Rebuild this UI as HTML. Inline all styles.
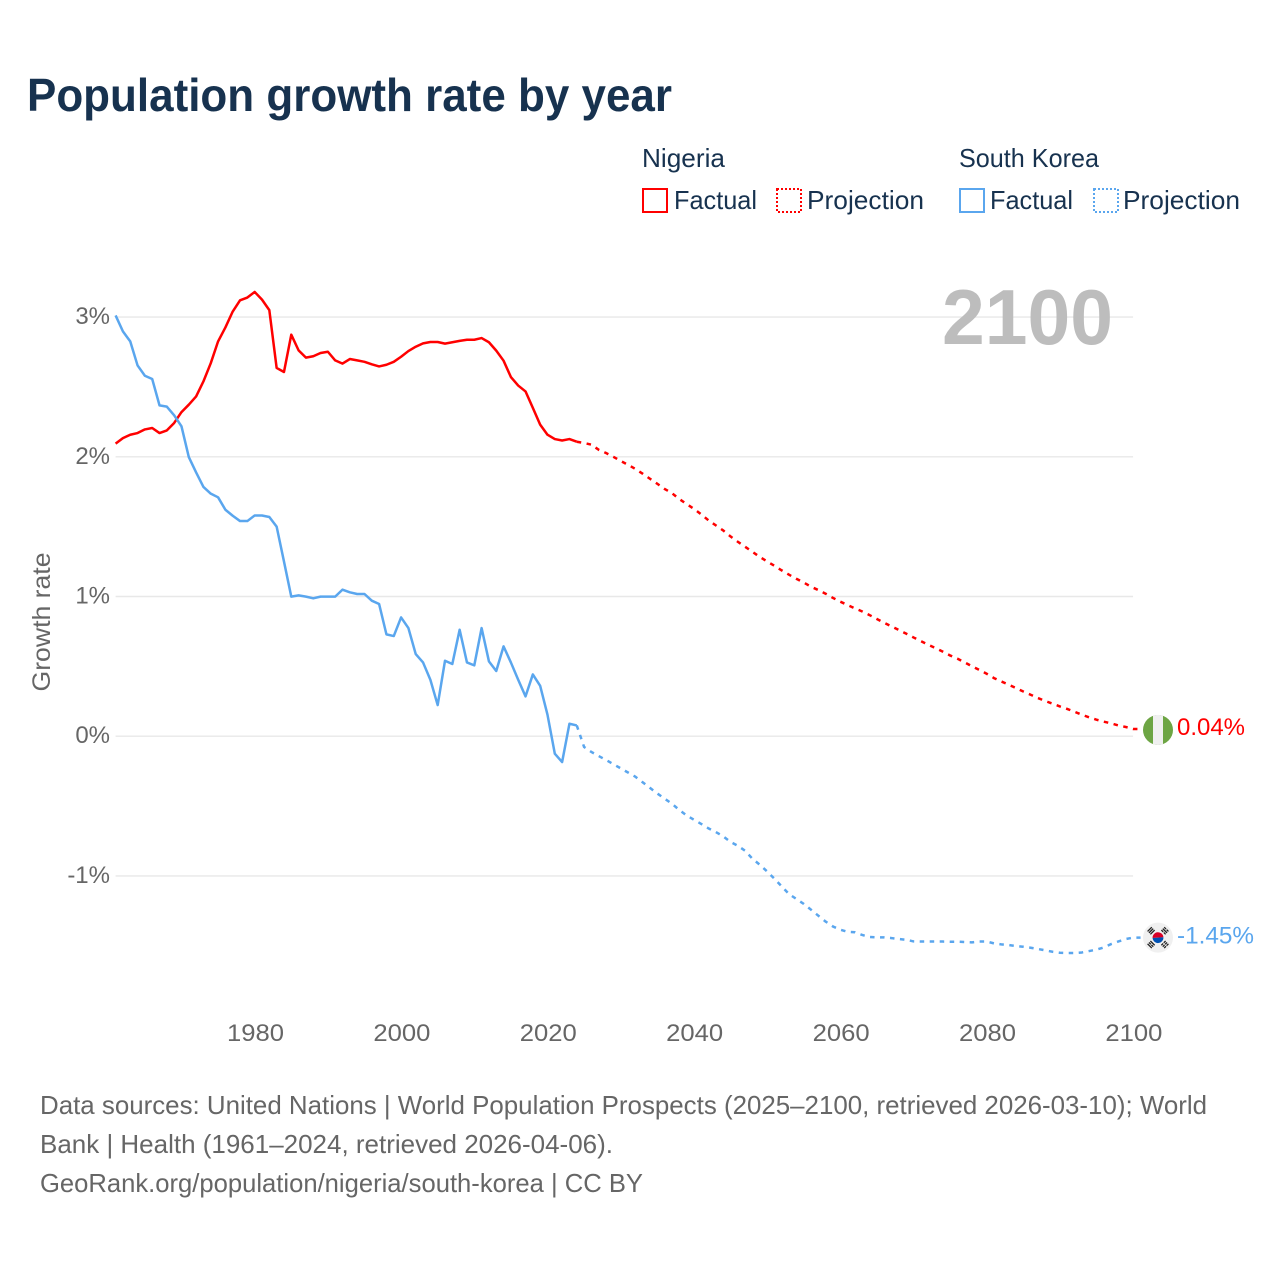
<!DOCTYPE html>
<html lang="en">
<head>
<meta charset="utf-8">
<title>Population growth rate by year</title>
<style>
html,body{margin:0;padding:0;background:#fff;}
svg{display:block;font-family:"Liberation Sans",Arial,sans-serif;}
</style>
</head>
<body>
<svg id="chart" xmlns="http://www.w3.org/2000/svg" width="1280" height="1280" viewBox="0 0 1280 1280">
  <rect x="0" y="0" width="1280" height="1280" fill="#ffffff"/>
  <text x="27" y="111" font-size="46" font-weight="700" fill="#17324f" textLength="645" lengthAdjust="spacingAndGlyphs">Population growth rate by year</text>

  <g font-size="26" fill="#17324f">
    <text x="642" y="167" textLength="83" lengthAdjust="spacingAndGlyphs">Nigeria</text>
    <text x="959" y="167" textLength="140" lengthAdjust="spacingAndGlyphs">South Korea</text>
    <g>
      <rect x="643" y="189" width="24" height="23" fill="none" stroke="#ff0000" stroke-width="2"/>
      <text x="674" y="209" textLength="83" lengthAdjust="spacingAndGlyphs">Factual</text>
    </g>
    <g>
      <rect x="777" y="189" width="24" height="23" fill="none" stroke="#ff0000" stroke-width="2" stroke-dasharray="2 2"/>
      <text x="807" y="209" textLength="117" lengthAdjust="spacingAndGlyphs">Projection</text>
    </g>
    <g>
      <rect x="960" y="189" width="24" height="23" fill="none" stroke="#5aa6ee" stroke-width="2"/>
      <text x="990" y="209" textLength="83" lengthAdjust="spacingAndGlyphs">Factual</text>
    </g>
    <g>
      <rect x="1094" y="189" width="24" height="23" fill="none" stroke="#5aa6ee" stroke-width="2" stroke-dasharray="2 2"/>
      <text x="1123" y="209" textLength="117" lengthAdjust="spacingAndGlyphs">Projection</text>
    </g>
  </g>

  <g id="grid"></g>
  <text x="942" y="344" font-size="78" font-weight="700" fill="#bdbdbd" textLength="171" lengthAdjust="spacingAndGlyphs">2100</text>
  <g id="yticks" font-size="24" fill="#666666"></g>
  <g id="xticks" font-size="24" fill="#666666"></g>
  <text transform="translate(50,622) rotate(-90)" text-anchor="middle" font-size="25" fill="#666666" textLength="139" lengthAdjust="spacingAndGlyphs">Growth rate</text>
  <g id="series"></g>

  <g id="flag-nigeria">
    <circle cx="0" cy="0" r="15" fill="#6da544"/>
    <path d="M-5 -14.2A15 15 0 0 1 5 -14.2V14.2A15 15 0 0 1 -5 14.2Z" fill="#f0f0f0"/>
  </g>
  <g id="flag-korea">
    <circle cx="0" cy="0" r="15" fill="#f0f0f0"/>
    <path d="M-5.4 0.4A5.4 5.4 0 0 1 5.4 -0.4Z" fill="#d80027"/>
    <path d="M-5.4 0.4A5.4 5.4 0 0 0 5.4 -0.4Z" fill="#0052b4"/>
    <g fill="#222222">
      <g transform="rotate(-45) translate(0,-9.8)"><rect x="-3" y="-2.6" width="6" height="1.3"/><rect x="-3" y="-0.6" width="6" height="1.3"/><rect x="-3" y="1.4" width="6" height="1.3"/></g>
      <g transform="rotate(45) translate(0,-9.8)"><rect x="-3" y="-2.6" width="2.6" height="1.3"/><rect x="0.4" y="-2.6" width="2.6" height="1.3"/><rect x="-3" y="-0.6" width="6" height="1.3"/><rect x="-3" y="1.4" width="2.6" height="1.3"/><rect x="0.4" y="1.4" width="2.6" height="1.3"/></g>
      <g transform="rotate(135) translate(0,-9.8)"><rect x="-3" y="-2.6" width="2.6" height="1.3"/><rect x="0.4" y="-2.6" width="2.6" height="1.3"/><rect x="-3" y="-0.6" width="2.6" height="1.3"/><rect x="0.4" y="-0.6" width="2.6" height="1.3"/><rect x="-3" y="1.4" width="2.6" height="1.3"/><rect x="0.4" y="1.4" width="2.6" height="1.3"/></g>
      <g transform="rotate(225) translate(0,-9.8)"><rect x="-3" y="-2.6" width="6" height="1.3"/><rect x="-3" y="-0.6" width="2.6" height="1.3"/><rect x="0.4" y="-0.6" width="2.6" height="1.3"/><rect x="-3" y="1.4" width="6" height="1.3"/></g>
    </g>
  </g>
  <text id="label-nigeria" x="1177" font-size="24" fill="#ff0000" textLength="68" lengthAdjust="spacingAndGlyphs"></text>
  <text id="label-korea" x="1177" font-size="24" fill="#5aa6ee" textLength="77" lengthAdjust="spacingAndGlyphs"></text>

  <g font-size="26" fill="#666666">
    <text x="40" y="1114" textLength="1167" lengthAdjust="spacingAndGlyphs">Data sources: United Nations | World Population Prospects (2025–2100, retrieved 2026-03-10); World</text>
    <text x="40" y="1153" textLength="573" lengthAdjust="spacingAndGlyphs">Bank | Health (1961–2024, retrieved 2026-04-06).</text>
    <text x="40" y="1192" textLength="603" lengthAdjust="spacingAndGlyphs">GeoRank.org/population/nigeria/south-korea | CC BY</text>
  </g>
</svg>
<script>
const firstYear = 1961;
const yTickValues = [3, 2, 1, 0, -1];
const yTickLabels = ["3%", "2%", "1%", "0%", "-1%"];
const xTickYears = [1980, 2000, 2020, 2040, 2060, 2080, 2100];
const nigeriaEndLabel = "0.04%";
const koreaEndLabel = "-1.45%";
const nigeriaFactual = [2.094,2.134,2.158,2.17,2.196,2.206,2.17,2.189,2.242,2.32,2.373,2.432,2.54,2.67,2.826,2.926,3.04,3.12,3.14,3.18,3.125,3.05,2.636,2.607,2.874,2.762,2.71,2.72,2.743,2.752,2.69,2.667,2.70,2.69,2.68,2.662,2.647,2.659,2.68,2.716,2.757,2.788,2.812,2.822,2.822,2.81,2.82,2.83,2.838,2.838,2.85,2.82,2.76,2.688,2.571,2.51,2.468,2.35,2.23,2.158,2.127,2.117,2.127,2.108];
const nigeriaProjection = [2.099,2.087,2.05,2.027,2.0,1.97,1.943,1.913,1.879,1.843,1.807,1.77,1.74,1.698,1.662,1.628,1.588,1.545,1.509,1.473,1.43,1.392,1.356,1.32,1.283,1.251,1.22,1.187,1.156,1.127,1.1,1.07,1.046,1.02,0.99,0.963,0.939,0.915,0.893,0.867,0.839,0.812,0.786,0.76,0.734,0.707,0.681,0.655,0.631,0.605,0.578,0.555,0.528,0.5,0.474,0.447,0.416,0.392,0.369,0.345,0.32,0.297,0.273,0.252,0.233,0.213,0.195,0.175,0.154,0.135,0.118,0.104,0.092,0.077,0.066,0.052];
const koreaFactual = [3.012,2.898,2.826,2.654,2.58,2.557,2.368,2.359,2.297,2.218,1.998,1.888,1.784,1.736,1.71,1.621,1.578,1.54,1.54,1.58,1.58,1.569,1.50,1.251,0.999,1.008,0.999,0.987,0.999,0.999,0.999,1.049,1.03,1.018,1.018,0.97,0.946,0.729,0.717,0.85,0.774,0.588,0.528,0.404,0.223,0.54,0.517,0.762,0.528,0.507,0.774,0.536,0.467,0.643,0.528,0.404,0.285,0.442,0.361,0.154,-0.125,-0.185,0.089,0.077];
const koreaProjection = [-0.077,-0.113,-0.142,-0.17,-0.2,-0.23,-0.26,-0.29,-0.33,-0.37,-0.41,-0.447,-0.483,-0.528,-0.567,-0.598,-0.628,-0.66,-0.686,-0.717,-0.757,-0.784,-0.82,-0.877,-0.92,-0.968,-1.02,-1.075,-1.13,-1.165,-1.2,-1.242,-1.285,-1.327,-1.362,-1.385,-1.4,-1.403,-1.423,-1.437,-1.44,-1.44,-1.445,-1.452,-1.457,-1.469,-1.47,-1.47,-1.47,-1.47,-1.471,-1.471,-1.473,-1.476,-1.47,-1.47,-1.483,-1.49,-1.495,-1.502,-1.507,-1.514,-1.523,-1.533,-1.543,-1.55,-1.552,-1.552,-1.548,-1.538,-1.528,-1.512,-1.488,-1.469,-1.452,-1.442];

const SVG_NS = "http://www.w3.org/2000/svg";
const RED = "#ff0000";
const BLUE = "#5aa6ee";
const xAt = function (year) { return 115.6 + 7.32 * (year - firstYear); };
const yAt = function (value) { return 736.2 - 139.7 * value; };
const plotRight = xAt(2100);

const gridGroup = document.getElementById("grid");
const yTickGroup = document.getElementById("yticks");
yTickValues.forEach(function (value, i) {
  const line = document.createElementNS(SVG_NS, "line");
  
  
  line.setAttribute("x1", xAt(firstYear));
  line.setAttribute("x2", plotRight);
  line.setAttribute("y1", yAt(value));
  line.setAttribute("y2", yAt(value));
  line.setAttribute("stroke", "#e8e8e8");
  line.setAttribute("stroke-width", "1.4");
  gridGroup.appendChild(line);

  const label = document.createElementNS(SVG_NS, "text");
  
  
  label.setAttribute("x", 110);
  label.setAttribute("y", yAt(value) + 7);
  label.setAttribute("text-anchor", "end");
  label.textContent = yTickLabels[i];
  yTickGroup.appendChild(label);
});

const xTickGroup = document.getElementById("xticks");
xTickYears.forEach(function (year) {
  const label = document.createElementNS(SVG_NS, "text");
  
  
  label.setAttribute("x", xAt(year) + 0.8);
  label.setAttribute("y", 1041);
  label.setAttribute("text-anchor", "middle");
  label.setAttribute("textLength", "57");
  label.setAttribute("lengthAdjust", "spacingAndGlyphs");
  label.textContent = String(year);
  xTickGroup.appendChild(label);
});

const seriesGroup = document.getElementById("series");
function drawSeries(factual, projection, color, seriesName) {
  const factualPoints = factual.map(function (v, i) {
    return xAt(firstYear + i).toFixed(2) + "," + yAt(v).toFixed(2);
  });
  const solid = document.createElementNS(SVG_NS, "polyline");
  
  
  solid.setAttribute("points", factualPoints.join(" "));
  solid.setAttribute("fill", "none");
  solid.setAttribute("stroke", color);
  solid.setAttribute("stroke-width", "2.5");
  solid.setAttribute("stroke-linejoin", "round");
  seriesGroup.appendChild(solid);

  const projectionStart = firstYear + factual.length;
  const projectionPoints = [factualPoints[factualPoints.length - 1]].concat(projection.map(function (v, i) {
    return xAt(projectionStart + i).toFixed(2) + "," + yAt(v).toFixed(2);
  }));
  const lastValue = projection[projection.length - 1];
  projectionPoints.push((xAt(projectionStart + projection.length - 1) + 7.5).toFixed(2) + "," + yAt(lastValue).toFixed(2));
  const dashed = document.createElementNS(SVG_NS, "polyline");
  
  
  dashed.setAttribute("points", projectionPoints.join(" "));
  dashed.setAttribute("fill", "none");
  dashed.setAttribute("stroke", color);
  dashed.setAttribute("stroke-width", "2.5");
  dashed.setAttribute("stroke-dasharray", "4.5 5.5");
  seriesGroup.appendChild(dashed);
}
drawSeries(nigeriaFactual, nigeriaProjection, RED, "nigeria");
drawSeries(koreaFactual, koreaProjection, BLUE, "south-korea");

const nigeriaLastY = yAt(nigeriaProjection[nigeriaProjection.length - 1]);
const koreaLastY = yAt(koreaProjection[koreaProjection.length - 1]);
document.getElementById("flag-nigeria").setAttribute("transform", "translate(1158," + (nigeriaLastY + 1).toFixed(2) + ")");
document.getElementById("flag-korea").setAttribute("transform", "translate(1158," + koreaLastY.toFixed(2) + ")");
const nigeriaLabel = document.getElementById("label-nigeria");
nigeriaLabel.setAttribute("y", (nigeriaLastY + 6).toFixed(2));
nigeriaLabel.textContent = nigeriaEndLabel;
const koreaLabel = document.getElementById("label-korea");
koreaLabel.setAttribute("y", (koreaLastY + 6).toFixed(2));
koreaLabel.textContent = koreaEndLabel;
</script>
</body>
</html>
